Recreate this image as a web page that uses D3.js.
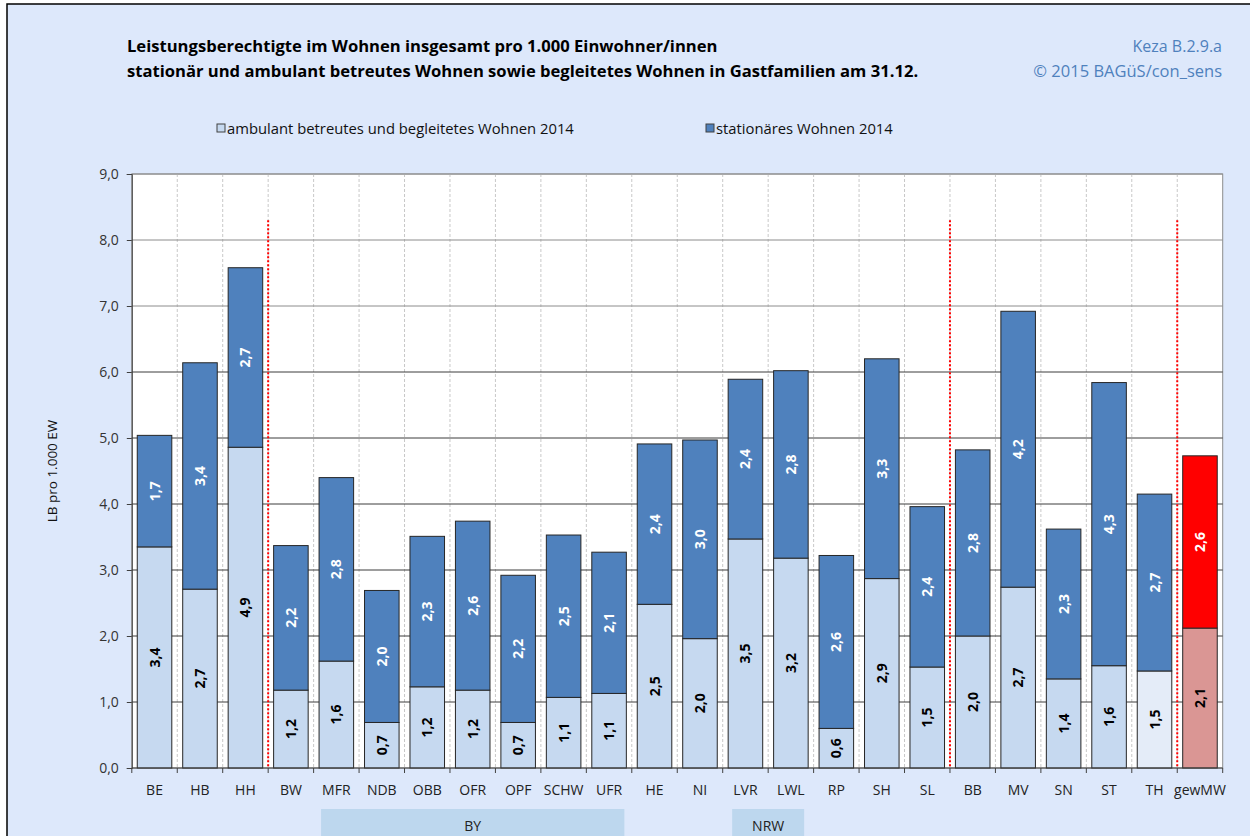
<!DOCTYPE html>
<html lang="de">
<head>
  <meta charset="UTF-8">
  <title>Keza B.2.9.a</title>
  <style>
    body, html {
      margin: 0;
      padding: 0;
      background-color: white;
    }
    svg {
      display: block;
      font-family: 'Open Sans', sans-serif;
    }
  </style>
</head>
<body>
  <svg id="svg" width="1250" height="836"></svg>
  <script src="https://d3js.org/d3.v7.min.js"></script>
  <script>
    // Kategorien und Werte (LB pro 1.000 EW)
    const categories = ['BE', 'HB', 'HH', 'BW', 'MFR', 'NDB', 'OBB', 'OFR', 'OPF', 'SCHW', 'UFR', 'HE', 'NI', 'LVR', 'LWL', 'RP', 'SH', 'SL', 'BB', 'MV', 'SN', 'ST', 'TH', 'gewMW']
    const ambulant = [3.35, 2.71, 4.86, 1.18, 1.62, 0.69, 1.23, 1.18, 0.69, 1.07, 1.13, 2.48, 1.96, 3.47, 3.18, 0.60, 2.87, 1.53, 2.00, 2.74, 1.35, 1.55, 1.47, 2.12]
    const stationaer = [1.69, 3.43, 2.72, 2.19, 2.78, 2.00, 2.28, 2.56, 2.23, 2.46, 2.14, 2.43, 3.01, 2.42, 2.84, 2.62, 3.33, 2.43, 2.82, 4.18, 2.27, 4.29, 2.68, 2.61]
    const yTicks = [0, 1, 2, 3, 4, 5, 6, 7, 8, 9]
    const seriesNames = ['ambulant betreutes und begleitetes Wohnen 2014', 'stationäres Wohnen 2014']
    // rote Trennlinien nach diesen Kategorien
    const separatorsAfter = ['HH', 'SL', 'TH']
    const separatorTop = 8.3
    // Gruppen unter der Achse
    const groupLabels = ['BY', 'NRW']
    const groupStart = ['MFR', 'LVR']
    const groupEnd = ['UFR', 'LWL']

    const de = d3.formatLocale({ decimal: ',', thousands: '.', grouping: [3], currency: ['', ' €'] })
    const fmt = de.format('.1f')

    const plotLeft = 131.8, plotRight = 1222.7, plotTop = 174, plotBottom = 768

    const svg = d3.select('#svg')

    // Hintergrund
    svg.append('rect').attr('x', 0).attr('y', 0).attr('width', 1250).attr('height', 836).attr('fill', 'white')
    svg.append('rect').attr('x', 7).attr('y', 4).attr('width', 1250).attr('height', 840)
      .attr('fill', '#dde8fb').attr('stroke', '#000').attr('stroke-width', 1.5)

    const xScale = d3.scaleBand()
      .domain(categories)
      .range([plotLeft, plotRight])
      .paddingInner(0.24)
      .paddingOuter(0.12)

    const step = xScale.step()
    const boundary = i => plotLeft + i * step

    const yScale = d3.scaleLinear()
      .domain([0, 9])
      .range([plotBottom, plotTop])

    // Plotfläche
    svg.append('rect')
      .attr('x', plotLeft).attr('y', plotTop)
      .attr('width', plotRight - plotLeft).attr('height', plotBottom - plotTop)
      .attr('fill', 'white')
      .attr('stroke', '#8c8c8c')

    // vertikale Gitterlinien (gestrichelt)
    svg.append('g')
      .selectAll('line')
      .data(d3.range(1, categories.length))
      .enter()
      .append('line')
      .attr('x1', i => boundary(i)).attr('x2', i => boundary(i))
      .attr('y1', plotTop).attr('y2', plotBottom)
      .attr('stroke', '#c8c8c8')
      .attr('stroke-dasharray', '3,2')

    // horizontale Gitterlinien
    svg.append('g')
      .selectAll('line')
      .data(yTicks.filter(d => d > 0))
      .enter()
      .append('line')
      .attr('x1', plotLeft).attr('x2', plotRight)
      .attr('y1', d => yScale(d)).attr('y2', d => yScale(d))
      .attr('stroke', d => d >= 7 ? '#8c8c8c' : '#3c3c3c')

    // y-Achse
    const yAxis = svg.append('g')
      .attr('transform', `translate(${plotLeft},0)`)
      .call(d3.axisLeft(yScale).tickValues(yTicks).tickFormat(fmt).tickSize(5).tickPadding(8))
    yAxis.select('.domain').attr('stroke', '#404040')
    yAxis.selectAll('.tick line').attr('stroke', '#404040')
    yAxis.selectAll('text')
      .style('font-size', '14px')
      .style('font-family', "'Open Sans', sans-serif")
      .attr('fill', '#333')

    svg.append('text')
      .text('LB pro 1.000 EW')
      .attr('transform', `translate(57,${(plotTop + plotBottom) / 2}) rotate(-90)`)
      .attr('text-anchor', 'middle')
      .style('font-size', '13.5px')
      .attr('fill', '#111')

    // Balken
    const rows = categories.map((c, i) => ({ cat: c, amb: ambulant[i], stat: stationaer[i] }))

    const ambColor = d => d.cat === 'gewMW' ? '#da9694' : (d.cat === 'TH' ? '#e4ecf8' : '#c6d9f0')
    const statColor = d => d.cat === 'gewMW' ? '#ff0000' : '#4f81bd'

    const groups = svg.append('g')
      .selectAll('g')
      .data(rows)
      .enter()
      .append('g')

    groups.append('rect')
      .attr('x', d => xScale(d.cat))
      .attr('y', d => yScale(d.amb))
      .attr('width', xScale.bandwidth())
      .attr('height', d => yScale(0) - yScale(d.amb))
      .attr('fill', ambColor)
      .attr('stroke', '#262626')
      .attr('stroke-width', 1)

    groups.append('rect')
      .attr('x', d => xScale(d.cat))
      .attr('y', d => yScale(d.amb + d.stat))
      .attr('width', xScale.bandwidth())
      .attr('height', d => yScale(d.amb) - yScale(d.amb + d.stat))
      .attr('fill', statColor)
      .attr('stroke', '#262626')
      .attr('stroke-width', 1)

    // Datenbeschriftungen, gedreht
    groups.append('text')
      .text(d => fmt(d.amb))
      .attr('transform', d => `translate(${xScale(d.cat) + xScale.bandwidth() / 2 + 5},${yScale(d.amb / 2)}) rotate(-90)`)
      .attr('text-anchor', 'middle')
      .style('font-size', '14px')
      .style('font-weight', 'bold')
      .attr('fill', '#000')

    groups.append('text')
      .text(d => fmt(d.stat))
      .attr('transform', d => `translate(${xScale(d.cat) + xScale.bandwidth() / 2 + 5},${yScale(d.amb + d.stat / 2)}) rotate(-90)`)
      .attr('text-anchor', 'middle')
      .style('font-size', '14px')
      .style('font-weight', 'bold')
      .attr('fill', '#fff')

    // rote Trennlinien
    svg.append('g')
      .selectAll('line')
      .data(separatorsAfter)
      .enter()
      .append('line')
      .attr('x1', d => boundary(categories.indexOf(d) + 1))
      .attr('x2', d => boundary(categories.indexOf(d) + 1))
      .attr('y1', yScale(separatorTop)).attr('y2', plotBottom)
      .attr('stroke', '#ff0000')
      .attr('stroke-width', 2)
      .attr('stroke-dasharray', '2,2')

    // x-Achse
    svg.append('line')
      .attr('x1', plotLeft).attr('x2', plotRight)
      .attr('y1', plotBottom).attr('y2', plotBottom)
      .attr('stroke', '#404040')
    svg.append('g')
      .selectAll('line')
      .data(d3.range(0, categories.length + 1))
      .enter()
      .append('line')
      .attr('x1', i => boundary(i)).attr('x2', i => boundary(i))
      .attr('y1', plotBottom).attr('y2', plotBottom + 5)
      .attr('stroke', '#404040')

    svg.append('g')
      .selectAll('text')
      .data(categories)
      .enter()
      .append('text')
      .text(d => d)
      .attr('x', d => xScale(d) + xScale.bandwidth() / 2)
      .attr('y', 795)
      .attr('text-anchor', 'middle')
      .style('font-size', '14px')
      .attr('fill', '#222')

    // Gruppen BY / NRW
    groupLabels.forEach((g, i) => {
      const inset = i === 0 ? 2 : 4
      const x0 = xScale(groupStart[i]) + inset
      const x1 = xScale(groupEnd[i]) + xScale.bandwidth() - inset
      svg.append('rect')
        .attr('x', x0).attr('y', 809)
        .attr('width', x1 - x0).attr('height', 40)
        .attr('fill', '#bdd7ee')
      svg.append('text')
        .text(g)
        .attr('x', (x0 + x1) / 2)
        .attr('y', 831)
        .attr('text-anchor', 'middle')
        .style('font-size', '14px')
        .attr('fill', '#222')
    })

    // Titel
    svg.append('text')
      .text('Leistungsberechtigte im Wohnen insgesamt pro 1.000 Einwohner/innen')
      .attr('x', 127).attr('y', 52)
      .style('font-size', '16.6px').style('font-weight', 'bold')
    svg.append('text')
      .text('stationär und ambulant betreutes Wohnen sowie begleitetes Wohnen in Gastfamilien am 31.12.')
      .attr('x', 127).attr('y', 77)
      .style('font-size', '16.6px').style('font-weight', 'bold')

    svg.append('text')
      .text('Keza B.2.9.a')
      .attr('x', 1222).attr('y', 52)
      .attr('text-anchor', 'end')
      .style('font-size', '16px')
      .attr('fill', '#4f81bd')
    svg.append('text')
      .text('© 2015 BAGüS/con_sens')
      .attr('x', 1222).attr('y', 77)
      .attr('text-anchor', 'end')
      .style('font-size', '16.5px')
      .attr('fill', '#4f81bd')

    // Legende
    const legendX = [217, 706]
    const legendFill = ['#c6d9f0', '#4f81bd']
    seriesNames.forEach((name, i) => {
      svg.append('rect')
        .attr('x', legendX[i]).attr('y', 124)
        .attr('width', 8).attr('height', 8)
        .attr('fill', legendFill[i])
        .attr('stroke', '#404040')
      svg.append('text')
        .text(name)
        .attr('x', legendX[i] + 10).attr('y', 134)
        .style('font-size', '14.8px')
        .attr('fill', '#111')
    })
  </script>
</body>
</html>
